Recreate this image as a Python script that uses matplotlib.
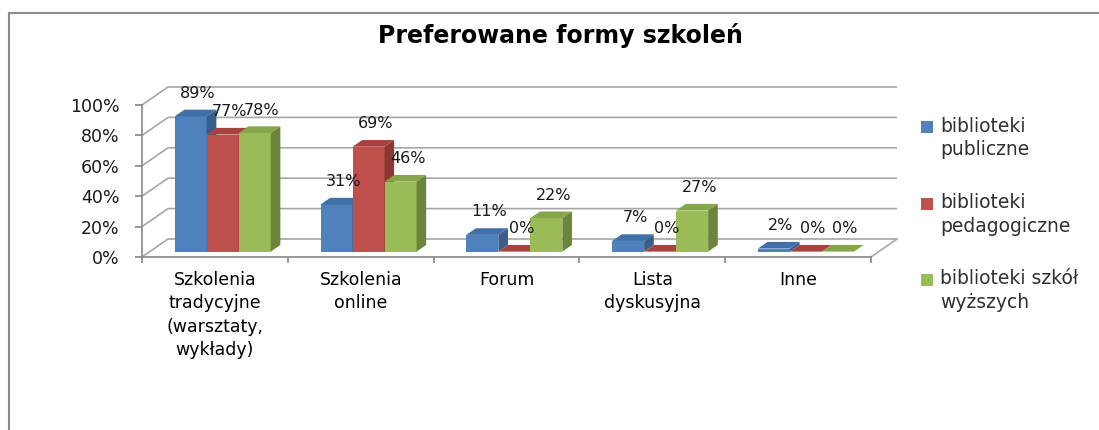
import matplotlib
matplotlib.use("Agg")
import matplotlib.pyplot as plt
from matplotlib.patches import Polygon, Rectangle
from matplotlib.lines import Line2D

# ---------------- data ----------------
title = "Preferowane formy szkoleń"
categories = ["Szkolenia\ntradycyjne\n(warsztaty,\nwykłady)", "Szkolenia\nonline",
              "Forum", "Lista\ndyskusyjna", "Inne"]
series_names = ["biblioteki\npubliczne", "biblioteki\npedagogiczne", "biblioteki szkół\nwyższych"]
publiczne = [89, 31, 11, 7, 2]
pedagogiczne = [77, 69, 0, 0, 0]
szkoly_wyzsze = [78, 46, 22, 27, 0]
y_ticks = [0, 20, 40, 60, 80, 100]
y_tick_labels = ["0%", "20%", "40%", "60%", "80%", "100%"]

series = [publiczne, pedagogiczne, szkoly_wyzsze]
front_cols = ["#4F81BD", "#C0504D", "#9BBB59"]
top_cols = ["#4070AA", "#A8423F", "#86A64A"]
side_cols = ["#385D8A", "#8A3735", "#6B853C"]

plt.rcParams["font.family"] = ["DejaVu Sans"]

W, H = 1099, 430
fig = plt.figure(figsize=(W / 100, H / 100), dpi=100)
fig.patch.set_facecolor("white")

# frame of the chart area
fig.add_artist(Line2D([8.5 / W, 8.5 / W], [0, 1 - 13 / H], color="#8C8C8C", lw=1.5))
fig.add_artist(Line2D([8.5 / W, 1.0], [1 - 13 / H, 1 - 13 / H], color="#8C8C8C", lw=1.5))

fig.text(560 / W, 1 - 35 / H, title, ha="center", va="center",
         fontsize=17, fontweight="bold", color="black")

ax = fig.add_axes([142 / W, 173 / H, 729 / W, 152 / H])
ax.set_facecolor("none")
n = len(categories)
ax.set_xlim(0, n)
ax.set_ylim(0, 100)

# 3D depth of the floor/walls in data units
DX = 26 / 145.8
DY = 18 / 152 * 100
f0 = 0.3     # depth position of bar front face
fb = 0.37    # bar depth fraction
bw = 0.2195  # bar width
g0 = 0.171   # group start inside category

grid_col = "#A6A6A6"
for v in y_ticks:
    ax.plot([0, DX, n + DX], [v, v + DY, v + DY], color=grid_col, lw=1.2,
            clip_on=False, zorder=0.5, solid_capstyle="butt")
ax.plot([n, n + DX], [0, DY], color=grid_col, lw=1.2, clip_on=False, zorder=0.5)

dxb, dyb = fb * DX, fb * DY
base = f0 * DY
z = 2
for c in range(n):
    for j, vals in enumerate(series):
        v = vals[c]
        xl = c + g0 + j * bw + f0 * DX
        ax.bar(xl, v, width=bw, bottom=base, align="edge", color=front_cols[j],
               edgecolor="none", zorder=z)
        top = Polygon([(xl, base + v), (xl + bw, base + v), (xl + bw + dxb, base + v + dyb),
                       (xl + dxb, base + v + dyb)], closed=True, facecolor=top_cols[j],
                      edgecolor="none", zorder=z, clip_on=False)
        side = Polygon([(xl + bw, base), (xl + bw, base + v), (xl + bw + dxb, base + v + dyb),
                        (xl + bw + dxb, base + dyb)], closed=True, facecolor=side_cols[j],
                       edgecolor="none", zorder=z, clip_on=False)
        ax.add_patch(top)
        ax.add_patch(side)
        z += 1
        ax.annotate(f"{v}%", xy=(xl + bw / 2, base + v), xytext=(7, 23),
                    textcoords="offset pixels", ha="center", va="center",
                    fontsize=11.5, color="#1A1A1A", zorder=100, annotation_clip=False)

for s in ["top", "right"]:
    ax.spines[s].set_visible(False)
for s in ["left", "bottom"]:
    ax.spines[s].set_color("#868686")
    ax.spines[s].set_linewidth(1.2)

ax.set_yticks(y_ticks)
ax.set_yticklabels(y_tick_labels, fontsize=12.5, color="#1A1A1A")
ax.tick_params(axis="y", length=5, width=1.2, color="#868686", pad=11)

ax.set_xticks(range(n + 1))
ax.set_xticklabels([])
ax.tick_params(axis="x", which="major", length=4, width=1.2, color="#868686")
ax.set_xticks([c + 0.5 for c in range(n)], minor=True)
ax.set_xticklabels(categories, minor=True, fontsize=12.5, color="black")
ax.tick_params(axis="x", which="minor", length=0, pad=10)
for t in ax.get_xticklabels(minor=True):
    t.set_linespacing(1.38)
    t.set_verticalalignment("top")

# legend
leg_y = [127.5, 204, 280]
for j, name in enumerate(series_names):
    fig.add_artist(Rectangle((921 / W, 1 - (leg_y[j] + 6) / H), 12 / W, 12 / H,
                             facecolor=front_cols[j], edgecolor="none",
                             transform=fig.transFigure))
    fig.text(940 / W, 1 - (leg_y[j] - 11) / H, name, ha="left", va="top",
             fontsize=13.5, color="#303030", linespacing=1.3)

fig.savefig("out.png", dpi=100)
